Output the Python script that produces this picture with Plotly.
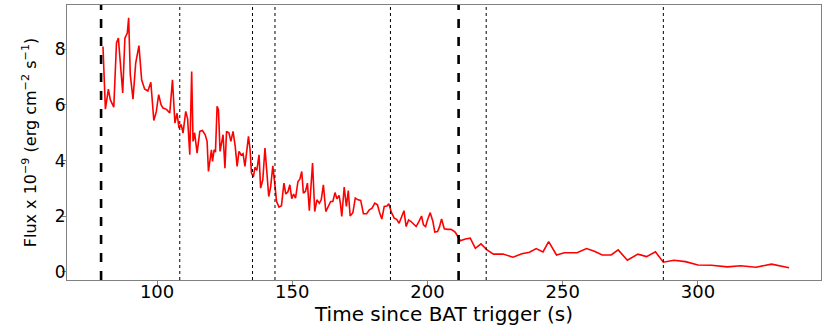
import plotly.graph_objects as go

# Time since BAT trigger (s)
time_s = [
    80.0, 80.9, 82.0, 82.7, 84.0, 85.0, 85.7, 86.6, 87.3, 88.1, 89.0, 89.5, 90.1, 91.1, 92.1,
    93.3, 94.3, 95.4, 96.6, 97.7, 98.8, 99.7, 100.6, 101.5, 102.2, 103.5, 104.7, 105.7, 106.6,
    107.4, 108.1, 108.9, 109.6, 110.6, 111.3, 112.1, 112.8, 113.3, 113.9, 114.8, 115.8, 116.8,
    117.8, 118.5, 119.0, 120.1, 120.5, 121.1, 121.6, 122.2, 122.7, 123.3, 124.4, 125.1, 125.7,
    126.6, 127.3, 128.1, 128.9, 129.6, 130.3, 131.1, 131.8, 132.5, 133.1, 133.8, 134.4, 134.9,
    135.6, 136.2, 136.9, 137.7, 138.3, 139.1, 139.9, 140.5, 141.3, 142.0, 142.8, 143.6, 144.2,
    145.1, 146.0, 146.9, 147.6, 148.4, 149.1, 149.8, 150.5, 151.2, 152.1, 152.8, 153.5, 154.1,
    154.9, 155.6, 156.3, 157.5, 158.3, 159.1, 160.0, 160.7, 161.5, 162.4, 163.3, 164.2, 165.0,
    165.8, 166.5, 167.3, 167.8, 168.3, 169.2, 170.0, 170.7, 171.4, 172.4, 173.3, 174.3, 175.3,
    176.3, 177.5, 178.5, 179.5, 180.5, 181.5, 182.3, 183.1, 184.0, 185.0, 185.7, 186.7, 187.7,
    188.6, 189.5, 190.5, 191.3, 192.1, 193.0, 193.9, 194.9, 195.8, 196.8, 197.8, 198.5, 199.3,
    200.0, 201.0, 202.0, 202.7, 203.7, 204.4, 205.2, 206.2, 207.4, 208.6, 209.4, 210.3, 211.1,
    212.1, 214.0, 215.8, 217.7, 219.8, 222.0, 224.4, 227.9, 231.6, 234.9, 237.7, 240.2, 242.7,
    244.8, 247.7, 250.6, 255.3, 258.8, 261.7, 264.6, 267.9, 270.5, 273.9, 277.8, 281.0, 284.3,
    287.2, 291.1, 295.4, 300.0, 305.0, 310.9, 315.8, 321.4, 327.2, 333.7,
]

# Flux x 1e-9 (erg cm^-2 s^-1)
flux = [
    8.10, 5.85, 6.57, 6.19, 5.92, 8.23, 8.40, 7.09, 6.43, 8.40, 8.58, 9.13, 7.09, 6.21, 7.50,
    8.13, 6.90, 6.57, 6.50, 6.81, 5.44, 5.75, 6.37, 6.00, 5.89, 5.84, 5.71, 6.90, 5.35,
    5.70, 5.17, 5.30, 4.99, 5.77, 5.50, 4.21, 7.20, 4.69, 5.00, 4.27, 5.05, 5.08,
    4.93, 4.69, 3.61, 4.39, 3.97, 4.39, 4.30, 5.95, 5.83, 4.33, 4.93, 3.73, 5.05,
    4.99, 4.69, 5.05, 4.51, 3.79, 4.33, 4.20, 4.25, 3.79, 4.39, 4.87, 4.39, 3.55,
    3.41, 3.76, 3.65, 4.21, 3.01, 3.31, 4.45, 3.73, 2.71, 3.05, 3.81, 3.10, 2.53,
    2.33, 2.38, 3.19, 2.80, 2.88, 3.13, 2.63, 2.80, 2.65, 3.25, 3.33, 3.61, 2.83,
    2.90, 3.19, 2.20, 3.91, 2.17, 2.59, 2.47, 2.59, 3.13, 2.17, 2.33, 2.53, 2.53,
    2.85, 2.63, 2.75, 2.45, 1.99, 3.05, 2.35, 2.92, 2.01, 2.13, 2.65, 2.59, 2.57,
    2.09, 2.09, 2.23, 2.29, 2.47, 2.41, 2.13, 1.90, 2.35, 2.37, 2.45, 2.13, 1.93,
    1.89, 1.75, 1.99, 2.20, 1.63, 1.87, 1.81, 1.73, 1.63, 1.81, 2.01, 1.69, 1.63,
    1.87, 2.13, 1.81, 1.43, 1.45, 1.61, 1.90, 1.55, 1.53, 1.53, 1.49, 1.42, 1.29,
    1.12, 1.18, 1.21, 0.85, 1.01, 0.79, 0.64, 0.64, 0.53, 0.65, 0.71, 0.84, 0.72,
    1.09, 0.61, 0.69, 0.69, 0.84, 0.74, 0.61, 0.61, 0.79, 0.42, 0.64, 0.55, 0.72,
    0.35, 0.42, 0.37, 0.25, 0.24, 0.18, 0.22, 0.17, 0.28, 0.15,
]

# Segment boundaries
thick_lines = [79.3, 211.5]
thin_lines = [108.4, 135.3, 143.6, 186.3, 221.7, 287.2]

x_ticks = [100, 150, 200, 250, 300]
y_ticks = [0, 2, 4, 6, 8]

fig = go.Figure()
fig.add_trace(go.Scatter(x=time_s, y=flux, mode="lines",
                         line=dict(color="red", width=1.6), showlegend=False))

shapes = []
for t in thick_lines:
    shapes.append(dict(type="line", xref="x", yref="paper", x0=t, x1=t, y0=0, y1=1,
                       line=dict(color="black", width=2.6, dash="dash")))
for t in thin_lines:
    shapes.append(dict(type="line", xref="x", yref="paper", x0=t, x1=t, y0=0, y1=1,
                       line=dict(color="black", width=1, dash="dot")))

fig.update_layout(
    width=830, height=327,
    margin=dict(l=67, r=9, t=5, b=47),
    paper_bgcolor="white", plot_bgcolor="white",
    font=dict(family="DejaVu Sans", color="black"),
    shapes=shapes,
    xaxis=dict(
        range=[66.7, 345.5], tickvals=x_ticks, ticktext=[str(v) for v in x_ticks],
        ticks="outside", ticklen=4, tickcolor="#808080", tickfont=dict(size=18),
        ticklabelstandoff=-9,
        showgrid=False, zeroline=False, showline=True, linecolor="#808080", linewidth=1.2,
        mirror=True, automargin=False,
        title=dict(text="Time since BAT trigger (s)", font=dict(size=20), standoff=2),
    ),
    yaxis=dict(
        range=[-0.29, 9.59], tickvals=y_ticks, ticktext=[str(v) for v in y_ticks],
        ticks="outside", ticklen=4, tickcolor="#808080", tickfont=dict(size=17),
        ticklabelstandoff=-7,
        showgrid=False, zeroline=False, showline=True, linecolor="#808080", linewidth=1.2,
        mirror=True, automargin=False,
        title=dict(text="Flux x 10<sup>−9</sup> (erg cm<sup>−2</sup> s<sup>−1</sup>)",
                   font=dict(size=16), standoff=14),
    ),
)

fig.write_html(
    "out.html",
    config={"displayModeBar": False},
    post_script="document.body.style.margin='0';document.body.style.overflow='hidden';",
)
